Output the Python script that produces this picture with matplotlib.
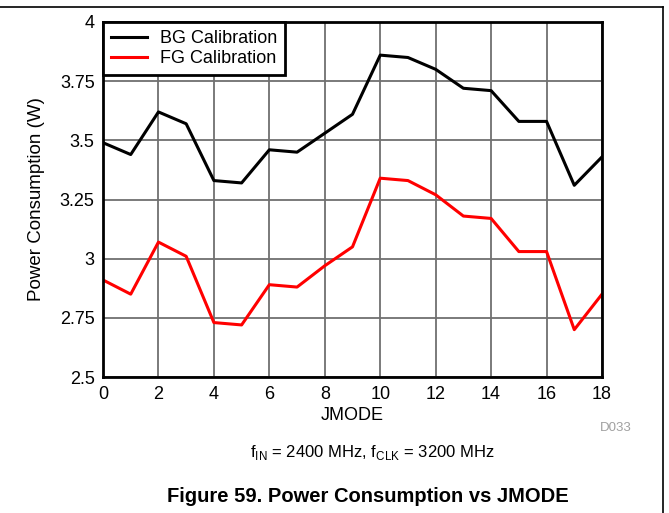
import matplotlib.pyplot as plt
from matplotlib.lines import Line2D

plt.rcParams["font.family"] = ["Liberation Sans", "DejaVu Sans"]

jmode = list(range(19))
bg_cal = [3.49, 3.44, 3.62, 3.57, 3.33, 3.32, 3.46, 3.45, 3.53, 3.61,
          3.86, 3.85, 3.80, 3.72, 3.71, 3.58, 3.58, 3.31, 3.43]
fg_cal = [2.91, 2.85, 3.07, 3.01, 2.73, 2.72, 2.89, 2.88, 2.97, 3.05,
          3.34, 3.33, 3.27, 3.18, 3.17, 3.03, 3.03, 2.70, 2.85]
yticks = [2.5, 2.75, 3, 3.25, 3.5, 3.75, 4]
ytick_labels = ["2.5", "2.75", "3", "3.25", "3.5", "3.75", "4"]

fig = plt.figure(figsize=(6.69, 5.13), dpi=100)
ax = fig.add_axes([103 / 669, 1 - 377 / 513, 499 / 669, 355 / 513])

ax.plot(jmode, bg_cal, color="black", lw=2.2, label="BG Calibration")
ax.plot(jmode, fg_cal, color="#ff0000", lw=2.2, label="FG Calibration")

ax.set_xlim(0, 18)
ax.set_ylim(2.5, 4)
ax.set_xticks(range(0, 19, 2))
ax.set_yticks(yticks)
ax.set_yticklabels(ytick_labels)
ax.tick_params(length=0, labelsize=13)
ax.tick_params(axis="x", pad=6.5)
ax.tick_params(axis="y", pad=6)
ax.grid(True, color="#707070", lw=1.3)
ax.set_axisbelow(True)
for s in ax.spines.values():
    s.set_linewidth(2)
    s.set_color("black")

ax.set_xlabel("JMODE", fontsize=13, va="center")
ax.xaxis.set_label_coords(0.5, -(415 - 377) / 355)
ax.set_ylabel("Power Consumption (W)", fontsize=13.5, va="center")
ax.yaxis.set_label_coords(-(103 - 37) / 499, 0.5)

leg = ax.legend(loc="upper left", fontsize=13, frameon=True, fancybox=False,
                borderaxespad=0, handlelength=2.0, borderpad=0.45,
                labelspacing=0.15, handletextpad=0.7)
leg.get_frame().set_edgecolor("black")
leg.get_frame().set_linewidth(2)
leg.get_frame().set_alpha(1)

fig.text(616 / 669, 1 - 428 / 513, "D033", color="#a0a0a0", fontsize=9.5,
         ha="center", va="center")
fig.text(372 / 669, 1 - 452 / 513,
         r"f$_\mathregular{IN}$ = 2400 MHz, f$_\mathregular{CLK}$ = 3200 MHz",
         fontsize=12, ha="center", va="center")
fig.text(368 / 669, 1 - 496 / 513, "Figure 59. Power Consumption vs JMODE",
         fontsize=14.5, fontweight="bold", ha="center", va="center")

# page frame lines
fig.add_artist(Line2D([0, 663 / 669], [1 - 7 / 513, 1 - 7 / 513],
                      color="black", lw=1.2))
fig.add_artist(Line2D([663 / 669, 663 / 669], [0, 1 - 7 / 513],
                      color="black", lw=1.2))

fig.savefig("out.png", dpi=100)
